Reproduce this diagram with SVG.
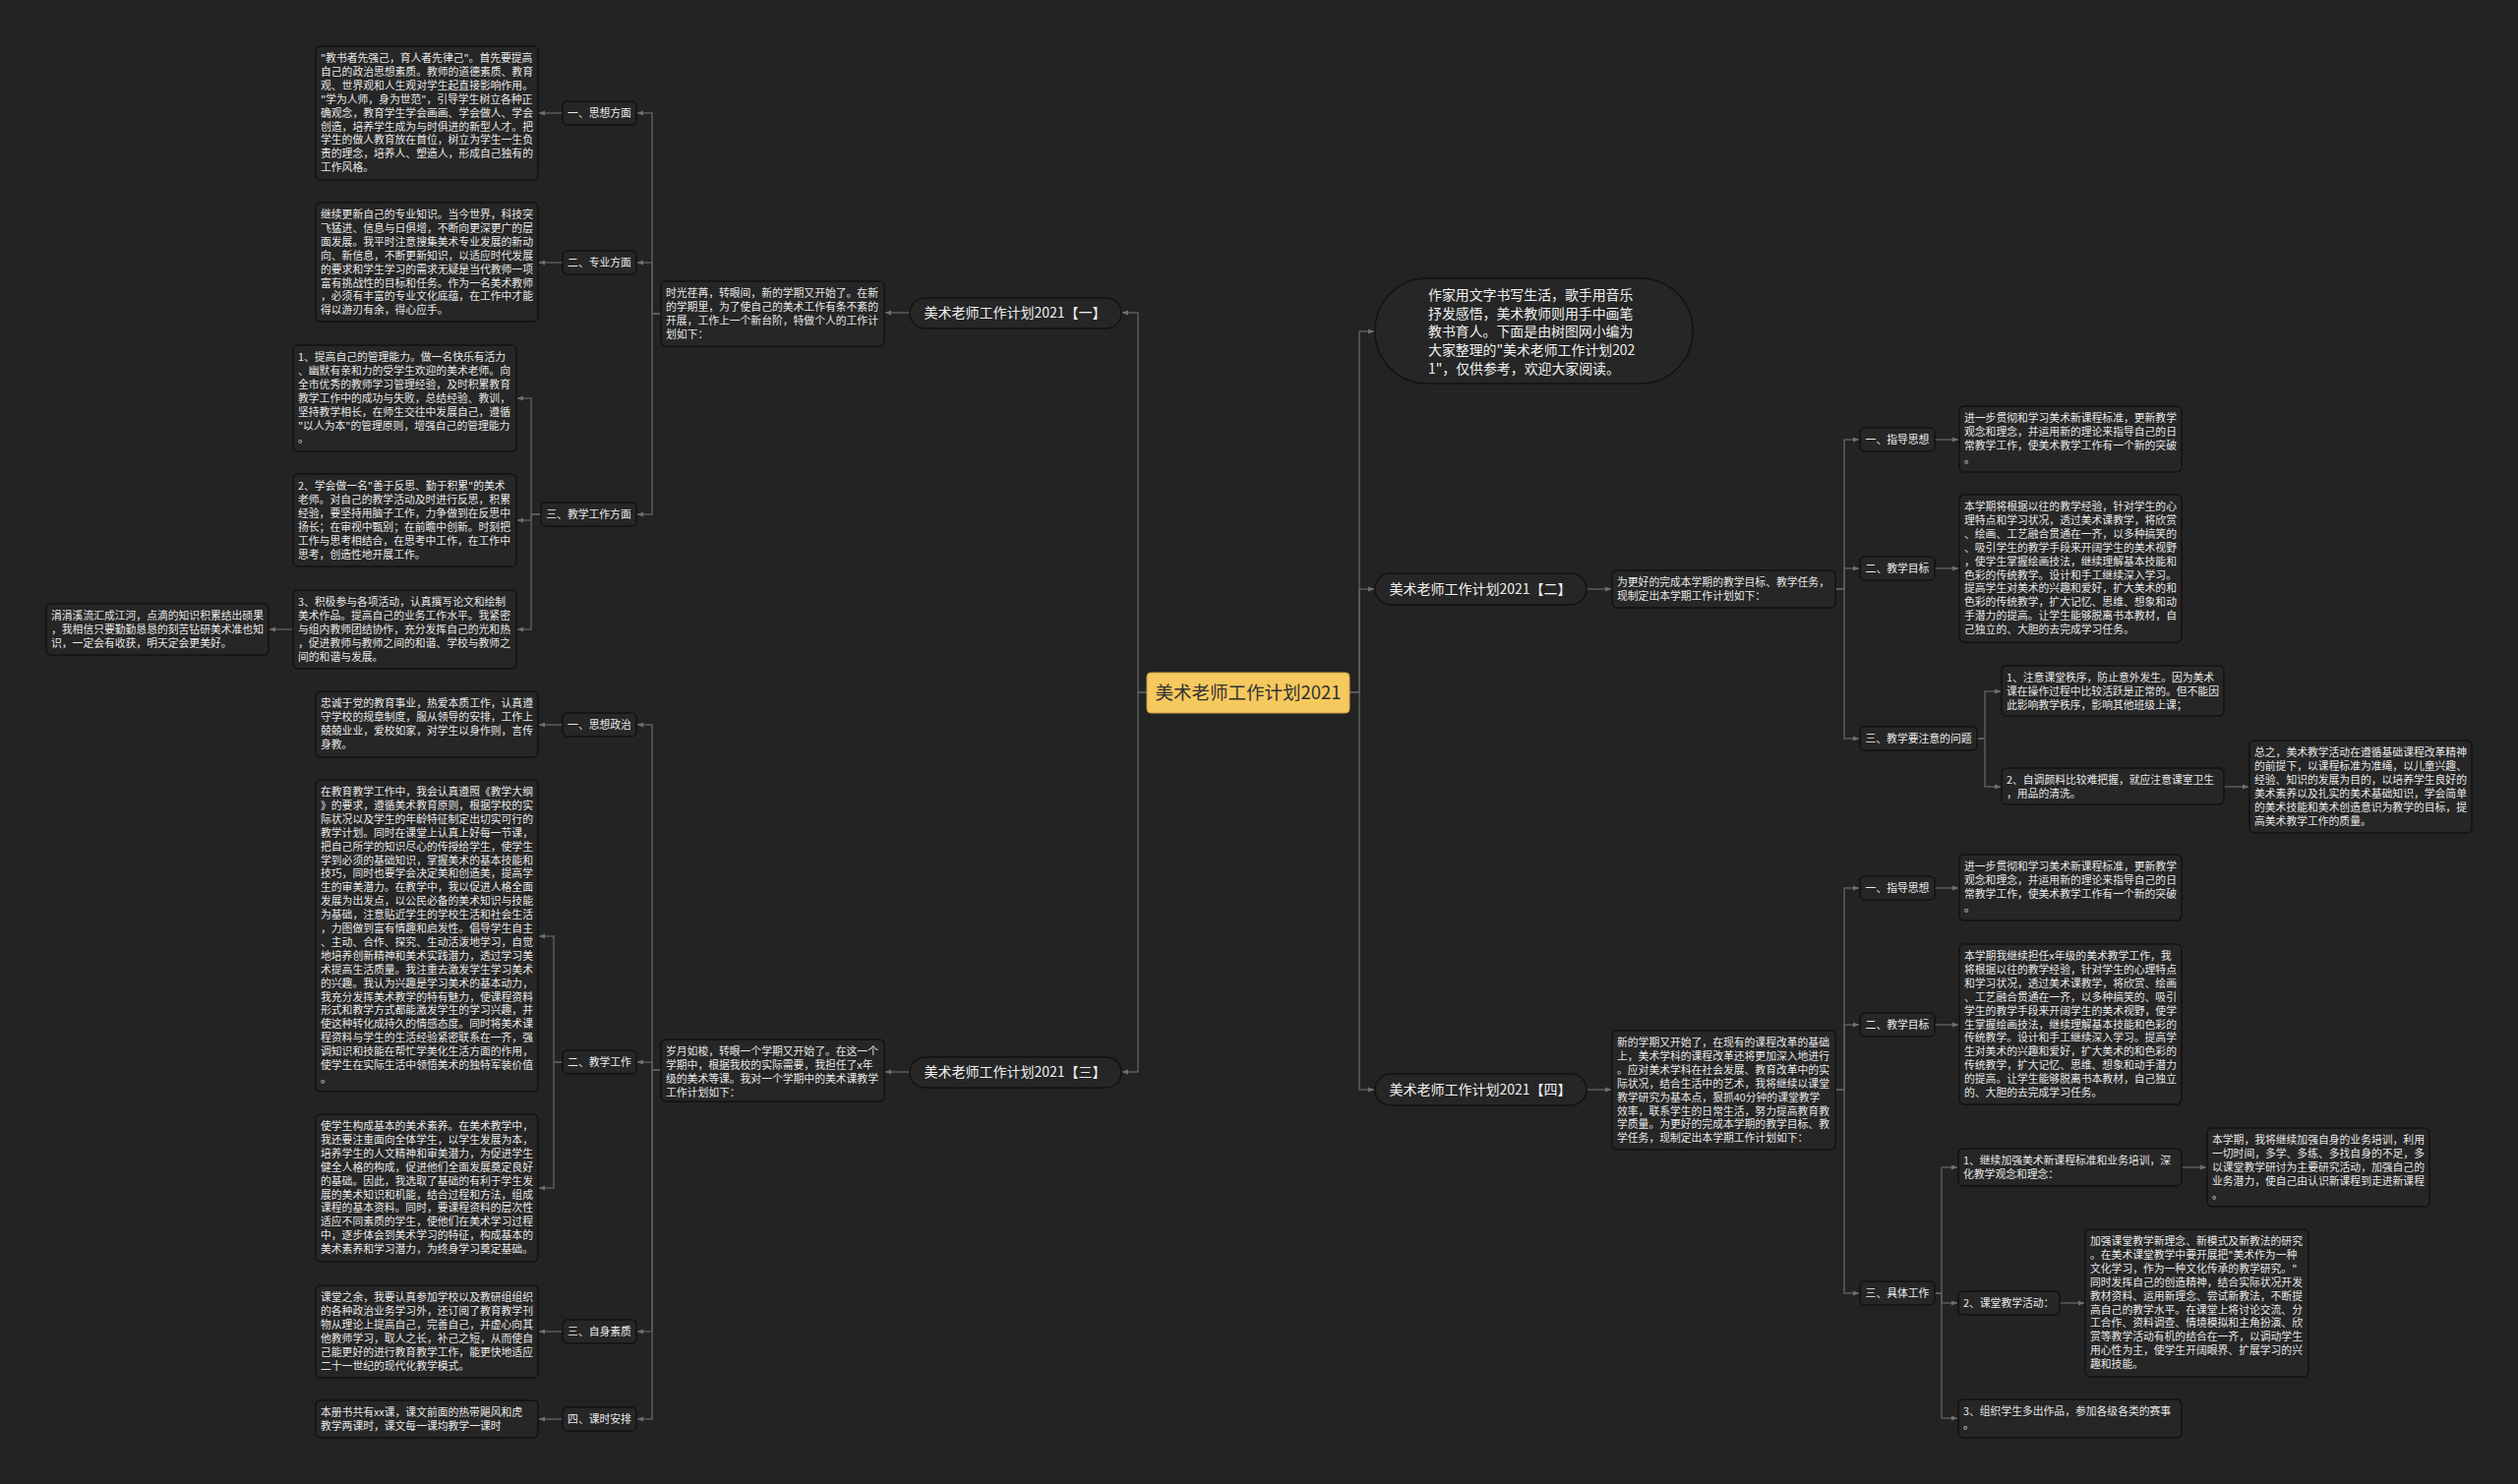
<svg xmlns="http://www.w3.org/2000/svg" width="2560" height="1509" viewBox="0 0 2560 1509">
<style>
.box{fill:#262626;stroke:#121212;stroke-width:1.5}
.t{font-family:"Noto Sans CJK SC","Noto Sans",sans-serif;font-size:10.8px;fill:#e8e8e8}
.lt{font-family:"Noto Sans CJK SC","Noto Sans",sans-serif;font-size:10.8px;fill:#ececec;text-anchor:middle}
.pt{font-family:"Noto Sans CJK SC","Noto Sans",sans-serif;font-size:14px;fill:#f0f0f0;text-anchor:middle}
.it{font-family:"Noto Sans CJK SC","Noto Sans",sans-serif;font-size:13.9px;fill:#f0f0f0}
.c{fill:none;stroke:#5c5c5c;stroke-width:1.5}
</style>
<defs>
<marker id="a" viewBox="0 0 6 6" refX="6" refY="3" markerWidth="6" markerHeight="6" orient="auto" markerUnits="userSpaceOnUse"><path d="M0,0.5 L6,3 L0,5.5 z" fill="#707070"/></marker>
</defs>
<rect width="2560" height="1509" fill="#232323"/>

<g id="connectors">
<path class="c" marker-end="url(#a)" d="M1166,704 H1157 V318 H1141"/>
<path class="c" marker-end="url(#a)" d="M1166,704 H1157 V1090 H1141"/>
<path class="c" marker-end="url(#a)" d="M925,318 H900"/>
<path class="c" marker-end="url(#a)" d="M672,319 H663 V115 H648"/>
<path class="c" marker-end="url(#a)" d="M672,319 H663 V267 H648"/>
<path class="c" marker-end="url(#a)" d="M672,319 H663 V523 H648"/>
<path class="c" marker-end="url(#a)" d="M572,115 H548"/>
<path class="c" marker-end="url(#a)" d="M572,267 H548"/>
<path class="c" marker-end="url(#a)" d="M550,523 H540 V405 H526"/>
<path class="c" marker-end="url(#a)" d="M550,523 H540 V529 H526"/>
<path class="c" marker-end="url(#a)" d="M550,523 H540 V640 H526"/>
<path class="c" marker-end="url(#a)" d="M298,640 H274"/>
<path class="c" marker-end="url(#a)" d="M925,1090 H900"/>
<path class="c" marker-end="url(#a)" d="M672,1088 H663 V737 H648"/>
<path class="c" marker-end="url(#a)" d="M672,1088 H663 V1080 H648"/>
<path class="c" marker-end="url(#a)" d="M672,1088 H663 V1354 H648"/>
<path class="c" marker-end="url(#a)" d="M672,1088 H663 V1443 H648"/>
<path class="c" marker-end="url(#a)" d="M572,737 H548"/>
<path class="c" marker-end="url(#a)" d="M572,1080 H563 V952 H548"/>
<path class="c" marker-end="url(#a)" d="M572,1080 H563 V1208 H548"/>
<path class="c" marker-end="url(#a)" d="M572,1354 H548"/>
<path class="c" marker-end="url(#a)" d="M572,1443 H548"/>
<path class="c" marker-end="url(#a)" d="M1372,704 H1382 V337 H1397"/>
<path class="c" marker-end="url(#a)" d="M1372,704 H1382 V599 H1397"/>
<path class="c" marker-end="url(#a)" d="M1372,704 H1382 V1108 H1397"/>
<path class="c" marker-end="url(#a)" d="M1613,599 H1638"/>
<path class="c" marker-end="url(#a)" d="M1866,599 H1875 V447 H1890"/>
<path class="c" marker-end="url(#a)" d="M1866,599 H1875 V578 H1890"/>
<path class="c" marker-end="url(#a)" d="M1866,599 H1875 V751 H1890"/>
<path class="c" marker-end="url(#a)" d="M1967,447 H1991"/>
<path class="c" marker-end="url(#a)" d="M1967,578 H1991"/>
<path class="c" marker-end="url(#a)" d="M2010,751 H2018 V703 H2034"/>
<path class="c" marker-end="url(#a)" d="M2010,751 H2018 V800 H2034"/>
<path class="c" marker-end="url(#a)" d="M2261,800 H2286"/>
<path class="c" marker-end="url(#a)" d="M1613,1108 H1638"/>
<path class="c" marker-end="url(#a)" d="M1866,1108 H1875 V903 H1890"/>
<path class="c" marker-end="url(#a)" d="M1866,1108 H1875 V1042 H1890"/>
<path class="c" marker-end="url(#a)" d="M1866,1108 H1875 V1315 H1890"/>
<path class="c" marker-end="url(#a)" d="M1967,903 H1991"/>
<path class="c" marker-end="url(#a)" d="M1967,1042 H1991"/>
<path class="c" marker-end="url(#a)" d="M1967,1315 H1974 V1187 H1990"/>
<path class="c" marker-end="url(#a)" d="M1967,1315 H1974 V1325 H1990"/>
<path class="c" marker-end="url(#a)" d="M1967,1315 H1974 V1442 H1990"/>
<path class="c" marker-end="url(#a)" d="M2218,1187 H2243"/>
<path class="c" marker-end="url(#a)" d="M2094,1325 H2119"/>
</g>

<g id="root">
<rect x="1166" y="684" width="206" height="41" rx="4" fill="#f6c95e" stroke="#c9a040" stroke-width="1"/>
<text x="1269" y="711" font-family="Noto Sans CJK SC,Noto Sans,sans-serif" font-size="18.5" fill="#333" text-anchor="middle">美术老师工作计划2021</text>
</g>

<g id="plan1">
<rect class="box" x="925" y="303" width="215" height="31" rx="15.5"/>
<text class="pt" x="1032" y="323">美术老师工作计划2021【一】</text>
</g>
<g id="plan1-intro">
<rect class="box" x="672" y="286" width="227" height="66" rx="5"/>
<text class="t" x="677" y="302"><tspan x="677">时光荏苒，转眼间，新的学期又开始了。在新</tspan><tspan x="677" dy="13.9">的学期里，为了使自己的美术工作有条不紊的</tspan><tspan x="677" dy="13.9">开展，工作上一个新台阶，特做个人的工作计</tspan><tspan x="677" dy="13.9">划如下：</tspan></text>
</g>
<g id="p1-l1">
<rect class="box" x="572" y="103" width="75" height="24" rx="5"/>
<text class="lt" x="609.5" y="119">一、思想方面</text>
</g>
<g id="p1-b1">
<rect class="box" x="321" y="47" width="226" height="136" rx="5"/>
<text class="t" x="326" y="63"><tspan x="326">"教书者先强己，育人者先律己"。首先要提高</tspan><tspan x="326" dy="13.9">自己的政治思想素质。教师的道德素质、教育</tspan><tspan x="326" dy="13.9">观、世界观和人生观对学生起直接影响作用。</tspan><tspan x="326" dy="13.9">"学为人师，身为世范"，引导学生树立各种正</tspan><tspan x="326" dy="13.9">确观念，教育学生学会画画、学会做人、学会</tspan><tspan x="326" dy="13.9">创造，培养学生成为与时俱进的新型人才。把</tspan><tspan x="326" dy="13.9">学生的做人教育放在首位，树立为学生一生负</tspan><tspan x="326" dy="13.9">责的理念，培养人、塑造人，形成自己独有的</tspan><tspan x="326" dy="13.9">工作风格。</tspan></text>
</g>
<g id="p1-l2">
<rect class="box" x="572" y="255" width="75" height="24" rx="5"/>
<text class="lt" x="609.5" y="271">二、专业方面</text>
</g>
<g id="p1-b2">
<rect class="box" x="321" y="206" width="226" height="121" rx="5"/>
<text class="t" x="326" y="222"><tspan x="326">继续更新自己的专业知识。当今世界，科技突</tspan><tspan x="326" dy="13.9">飞猛进、信息与日俱增，不断向更深更广的层</tspan><tspan x="326" dy="13.9">面发展。我平时注意搜集美术专业发展的新动</tspan><tspan x="326" dy="13.9">向、新信息，不断更新知识，以适应时代发展</tspan><tspan x="326" dy="13.9">的要求和学生学习的需求无疑是当代教师一项</tspan><tspan x="326" dy="13.9">富有挑战性的目标和任务。作为一名美术教师</tspan><tspan x="326" dy="13.9">，必须有丰富的专业文化底蕴，在工作中才能</tspan><tspan x="326" dy="13.9">得以游刃有余，得心应手。</tspan></text>
</g>
<g id="p1-l3">
<rect class="box" x="550" y="511" width="97" height="24" rx="5"/>
<text class="lt" x="598.5" y="527">三、教学工作方面</text>
</g>
<g id="p1-b3a">
<rect class="box" x="298" y="351" width="227" height="108" rx="5"/>
<text class="t" x="303" y="367"><tspan x="303">1、提高自己的管理能力。做一名快乐有活力</tspan><tspan x="303" dy="13.9">、幽默有亲和力的受学生欢迎的美术老师。向</tspan><tspan x="303" dy="13.9">全市优秀的教师学习管理经验，及时积累教育</tspan><tspan x="303" dy="13.9">教学工作中的成功与失败，总结经验、教训，</tspan><tspan x="303" dy="13.9">坚持教学相长，在师生交往中发展自己，遵循</tspan><tspan x="303" dy="13.9">"以人为本"的管理原则，增强自己的管理能力</tspan><tspan x="303" dy="13.9">。</tspan></text>
</g>
<g id="p1-b3b">
<rect class="box" x="298" y="482" width="227" height="94" rx="5"/>
<text class="t" x="303" y="498"><tspan x="303">2、学会做一名"善于反思、勤于积累"的美术</tspan><tspan x="303" dy="13.9">老师。对自己的教学活动及时进行反思，积累</tspan><tspan x="303" dy="13.9">经验，要坚持用脑子工作，力争做到在反思中</tspan><tspan x="303" dy="13.9">扬长；在审视中甄别；在前瞻中创新。时刻把</tspan><tspan x="303" dy="13.9">工作与思考相结合，在思考中工作，在工作中</tspan><tspan x="303" dy="13.9">思考，创造性地开展工作。</tspan></text>
</g>
<g id="p1-b3c">
<rect class="box" x="298" y="600" width="227" height="80" rx="5"/>
<text class="t" x="303" y="616"><tspan x="303">3、积极参与各项活动，认真撰写论文和绘制</tspan><tspan x="303" dy="13.9">美术作品。提高自己的业务工作水平。我紧密</tspan><tspan x="303" dy="13.9">与组内教师团结协作，充分发挥自己的光和热</tspan><tspan x="303" dy="13.9">，促进教师与教师之间的和谐、学校与教师之</tspan><tspan x="303" dy="13.9">间的和谐与发展。</tspan></text>
</g>
<g id="p1-b3c-1">
<rect class="box" x="47" y="614" width="226" height="52" rx="5"/>
<text class="t" x="52" y="630"><tspan x="52">涓涓溪流汇成江河，点滴的知识积累结出硕果</tspan><tspan x="52" dy="13.9">，我相信只要勤勤恳恳的刻苦钻研美术准也知</tspan><tspan x="52" dy="13.9">识，一定会有收获，明天定会更美好。</tspan></text>
</g>

<g id="plan3">
<rect class="box" x="925" y="1075" width="215" height="31" rx="15.5"/>
<text class="pt" x="1032" y="1095">美术老师工作计划2021【三】</text>
</g>
<g id="plan3-intro">
<rect class="box" x="672" y="1057" width="227" height="63" rx="5"/>
<text class="t" x="677" y="1073"><tspan x="677">岁月如梭，转眼一个学期又开始了。在这一个</tspan><tspan x="677" dy="13.9">学期中，根据我校的实际需要，我担任了x年</tspan><tspan x="677" dy="13.9">级的美术等课。我对一个学期中的美术课教学</tspan><tspan x="677" dy="13.9">工作计划如下：</tspan></text>
</g>
<g id="p3-l1">
<rect class="box" x="572" y="725" width="75" height="24" rx="5"/>
<text class="lt" x="609.5" y="741">一、思想政治</text>
</g>
<g id="p3-b1">
<rect class="box" x="321" y="703" width="226" height="67" rx="5"/>
<text class="t" x="326" y="719"><tspan x="326">忠诚于党的教育事业，热爱本质工作，认真遵</tspan><tspan x="326" dy="13.9">守学校的规章制度，服从领导的安排，工作上</tspan><tspan x="326" dy="13.9">兢兢业业，爱校如家，对学生以身作则，言传</tspan><tspan x="326" dy="13.9">身教。</tspan></text>
</g>
<g id="p3-l2">
<rect class="box" x="572" y="1068" width="75" height="24" rx="5"/>
<text class="lt" x="609.5" y="1084">二、教学工作</text>
</g>
<g id="p3-b2a">
<rect class="box" x="321" y="793" width="226" height="317" rx="5"/>
<text class="t" x="326" y="809"><tspan x="326">在教育教学工作中，我会认真遵照《教学大纲</tspan><tspan x="326" dy="13.9">》的要求，遵循美术教育原则，根据学校的实</tspan><tspan x="326" dy="13.9">际状况以及学生的年龄特征制定出切实可行的</tspan><tspan x="326" dy="13.9">教学计划。同时在课堂上认真上好每一节课，</tspan><tspan x="326" dy="13.9">把自己所学的知识尽心的传授给学生，使学生</tspan><tspan x="326" dy="13.9">学到必须的基础知识，掌握美术的基本技能和</tspan><tspan x="326" dy="13.9">技巧，同时也要学会决定美和创造美，提高学</tspan><tspan x="326" dy="13.9">生的审美潜力。在教学中，我以促进人格全面</tspan><tspan x="326" dy="13.9">发展为出发点，以公民必备的美术知识与技能</tspan><tspan x="326" dy="13.9">为基础，注意贴近学生的学校生活和社会生活</tspan><tspan x="326" dy="13.9">，力图做到富有情趣和启发性。倡导学生自主</tspan><tspan x="326" dy="13.9">、主动、合作、探究、生动活泼地学习，自觉</tspan><tspan x="326" dy="13.9">地培养创新精神和美术实践潜力，透过学习美</tspan><tspan x="326" dy="13.9">术提高生活质量。我注重去激发学生学习美术</tspan><tspan x="326" dy="13.9">的兴趣。我认为兴趣是学习美术的基本动力，</tspan><tspan x="326" dy="13.9">我充分发挥美术教学的特有魅力，使课程资料</tspan><tspan x="326" dy="13.9">形式和教学方式都能激发学生的学习兴趣，并</tspan><tspan x="326" dy="13.9">使这种转化成持久的情感态度。同时将美术课</tspan><tspan x="326" dy="13.9">程资料与学生的生活经验紧密联系在一齐，强</tspan><tspan x="326" dy="13.9">调知识和技能在帮忙学美化生活方面的作用，</tspan><tspan x="326" dy="13.9">使学生在实际生活中领悟美术的独特军装价值</tspan><tspan x="326" dy="13.9">。</tspan></text>
</g>
<g id="p3-b2b">
<rect class="box" x="321" y="1133" width="226" height="150" rx="5"/>
<text class="t" x="326" y="1149"><tspan x="326">使学生构成基本的美术素养。在美术教学中，</tspan><tspan x="326" dy="13.9">我还要注重面向全体学生，以学生发展为本，</tspan><tspan x="326" dy="13.9">培养学生的人文精神和审美潜力，为促进学生</tspan><tspan x="326" dy="13.9">健全人格的构成，促进他们全面发展奠定良好</tspan><tspan x="326" dy="13.9">的基础。因此，我选取了基础的有利于学生发</tspan><tspan x="326" dy="13.9">展的美术知识和机能，结合过程和方法，组成</tspan><tspan x="326" dy="13.9">课程的基本资料。同时，要课程资料的层次性</tspan><tspan x="326" dy="13.9">适应不同素质的学生，使他们在美术学习过程</tspan><tspan x="326" dy="13.9">中，逐步体会到美术学习的特征，构成基本的</tspan><tspan x="326" dy="13.9">美术素养和学习潜力，为终身学习奠定基础。</tspan></text>
</g>
<g id="p3-l3">
<rect class="box" x="572" y="1342" width="75" height="24" rx="5"/>
<text class="lt" x="609.5" y="1358">三、自身素质</text>
</g>
<g id="p3-b3">
<rect class="box" x="321" y="1307" width="226" height="94" rx="5"/>
<text class="t" x="326" y="1323"><tspan x="326">课堂之余，我要认真参加学校以及教研组组织</tspan><tspan x="326" dy="13.9">的各种政治业务学习外，还订阅了教育教学刊</tspan><tspan x="326" dy="13.9">物从理论上提高自己，完善自己，并虚心向其</tspan><tspan x="326" dy="13.9">他教师学习，取人之长，补己之短，从而使自</tspan><tspan x="326" dy="13.9">己能更好的进行教育教学工作，能更快地适应</tspan><tspan x="326" dy="13.9">二十一世纪的现代化教学模式。</tspan></text>
</g>
<g id="p3-l4">
<rect class="box" x="572" y="1431" width="75" height="24" rx="5"/>
<text class="lt" x="609.5" y="1447">四、课时安排</text>
</g>
<g id="p3-b4">
<rect class="box" x="321" y="1424" width="226" height="38" rx="5"/>
<text class="t" x="326" y="1440"><tspan x="326">本册书共有xx课，课文前面的热带飓风和虎</tspan><tspan x="326" dy="13.9">教学两课时，课文每一课均教学一课时</tspan></text>
</g>

<g id="intro">
<rect class="box" x="1398" y="283" width="323" height="107" rx="53"/>
<text class="it" x="1452" y="305"><tspan x="1452">作家用文字书写生活，歌手用音乐</tspan><tspan x="1452" dy="18.7">抒发感悟，美术教师则用手中画笔</tspan><tspan x="1452" dy="18.7">教书育人。下面是由树图网小编为</tspan><tspan x="1452" dy="18.7">大家整理的"美术老师工作计划202</tspan><tspan x="1452" dy="18.7">1"，仅供参考，欢迎大家阅读。</tspan></text>
</g>

<g id="plan2">
<rect class="box" x="1398" y="583" width="215" height="32" rx="16"/>
<text class="pt" x="1505" y="604">美术老师工作计划2021【二】</text>
</g>
<g id="plan2-intro">
<rect class="box" x="1639" y="580" width="227" height="38" rx="5"/>
<text class="t" x="1644" y="596"><tspan x="1644">为更好的完成本学期的教学目标、教学任务，</tspan><tspan x="1644" dy="13.9">现制定出本学期工作计划如下：</tspan></text>
</g>
<g id="p2-l1">
<rect class="box" x="1891" y="435" width="76" height="24" rx="5"/>
<text class="lt" x="1929" y="451">一、指导思想</text>
</g>
<g id="p2-b1">
<rect class="box" x="1992" y="413" width="226" height="67" rx="5"/>
<text class="t" x="1997" y="429"><tspan x="1997">进一步贯彻和学习美术新课程标准，更新教学</tspan><tspan x="1997" dy="13.9">观念和理念，并运用新的理论来指导自己的日</tspan><tspan x="1997" dy="13.9">常教学工作，使美术教学工作有一个新的突破</tspan><tspan x="1997" dy="13.9">。</tspan></text>
</g>
<g id="p2-l2">
<rect class="box" x="1891" y="566" width="76" height="24" rx="5"/>
<text class="lt" x="1929" y="582">二、教学目标</text>
</g>
<g id="p2-b2">
<rect class="box" x="1992" y="503" width="226" height="150" rx="5"/>
<text class="t" x="1997" y="519"><tspan x="1997">本学期将根据以往的教学经验，针对学生的心</tspan><tspan x="1997" dy="13.9">理特点和学习状况，透过美术课教学，将欣赏</tspan><tspan x="1997" dy="13.9">、绘画、工艺融合贯通在一齐，以多种搞笑的</tspan><tspan x="1997" dy="13.9">、吸引学生的教学手段来开阔学生的美术视野</tspan><tspan x="1997" dy="13.9">，使学生掌握绘画技法，继续理解基本技能和</tspan><tspan x="1997" dy="13.9">色彩的传统教学。设计和手工继续深入学习。</tspan><tspan x="1997" dy="13.9">提高学生对美术的兴趣和爱好，扩大美术的和</tspan><tspan x="1997" dy="13.9">色彩的传统教学，扩大记忆、思维、想象和动</tspan><tspan x="1997" dy="13.9">手潜力的提高。让学生能够脱离书本教材，自</tspan><tspan x="1997" dy="13.9">己独立的、大胆的去完成学习任务。</tspan></text>
</g>
<g id="p2-l3">
<rect class="box" x="1891" y="739" width="119" height="24" rx="5"/>
<text class="lt" x="1950.5" y="755">三、教学要注意的问题</text>
</g>
<g id="p2-b3a">
<rect class="box" x="2035" y="677" width="226" height="51" rx="5"/>
<text class="t" x="2040" y="693"><tspan x="2040">1、注意课堂秩序，防止意外发生。因为美术</tspan><tspan x="2040" dy="13.9">课在操作过程中比较活跃是正常的。但不能因</tspan><tspan x="2040" dy="13.9">此影响教学秩序，影响其他班级上课；</tspan></text>
</g>
<g id="p2-b3b">
<rect class="box" x="2035" y="781" width="226" height="37" rx="5"/>
<text class="t" x="2040" y="797"><tspan x="2040">2、自调颜料比较难把握，就应注意课室卫生</tspan><tspan x="2040" dy="13.9">，用品的清洗。</tspan></text>
</g>
<g id="p2-b3b-1">
<rect class="box" x="2287" y="753" width="226" height="94" rx="5"/>
<text class="t" x="2292" y="769"><tspan x="2292">总之，美术教学活动在遵循基础课程改革精神</tspan><tspan x="2292" dy="13.9">的前提下，以课程标准为准绳，以儿童兴趣、</tspan><tspan x="2292" dy="13.9">经验、知识的发展为目的，以培养学生良好的</tspan><tspan x="2292" dy="13.9">美术素养以及扎实的美术基础知识，学会简单</tspan><tspan x="2292" dy="13.9">的美术技能和美术创造意识为教学的目标，提</tspan><tspan x="2292" dy="13.9">高美术教学工作的质量。</tspan></text>
</g>

<g id="plan4">
<rect class="box" x="1398" y="1092" width="215" height="32" rx="16"/>
<text class="pt" x="1505" y="1113">美术老师工作计划2021【四】</text>
</g>
<g id="plan4-intro">
<rect class="box" x="1639" y="1048" width="227" height="121" rx="5"/>
<text class="t" x="1644" y="1064"><tspan x="1644">新的学期又开始了，在现有的课程改革的基础</tspan><tspan x="1644" dy="13.9">上，美术学科的课程改革还将更加深入地进行</tspan><tspan x="1644" dy="13.9">。应对美术学科在社会发展、教育改革中的实</tspan><tspan x="1644" dy="13.9">际状况，结合生活中的艺术，我将继续以课堂</tspan><tspan x="1644" dy="13.9">教学研究为基本点，狠抓40分钟的课堂教学</tspan><tspan x="1644" dy="13.9">效率，联系学生的日常生活，努力提高教育教</tspan><tspan x="1644" dy="13.9">学质量。为更好的完成本学期的教学目标、教</tspan><tspan x="1644" dy="13.9">学任务，现制定出本学期工作计划如下：</tspan></text>
</g>
<g id="p4-l1">
<rect class="box" x="1891" y="891" width="76" height="24" rx="5"/>
<text class="lt" x="1929" y="907">一、指导思想</text>
</g>
<g id="p4-b1">
<rect class="box" x="1992" y="869" width="226" height="67" rx="5"/>
<text class="t" x="1997" y="885"><tspan x="1997">进一步贯彻和学习美术新课程标准，更新教学</tspan><tspan x="1997" dy="13.9">观念和理念，并运用新的理论来指导自己的日</tspan><tspan x="1997" dy="13.9">常教学工作，使美术教学工作有一个新的突破</tspan><tspan x="1997" dy="13.9">。</tspan></text>
</g>
<g id="p4-l2">
<rect class="box" x="1891" y="1030" width="76" height="24" rx="5"/>
<text class="lt" x="1929" y="1046">二、教学目标</text>
</g>
<g id="p4-b2">
<rect class="box" x="1992" y="960" width="226" height="163" rx="5"/>
<text class="t" x="1997" y="976"><tspan x="1997">本学期我继续担任x年级的美术教学工作，我</tspan><tspan x="1997" dy="13.9">将根据以往的教学经验，针对学生的心理特点</tspan><tspan x="1997" dy="13.9">和学习状况，透过美术课教学，将欣赏、绘画</tspan><tspan x="1997" dy="13.9">、工艺融合贯通在一齐，以多种搞笑的、吸引</tspan><tspan x="1997" dy="13.9">学生的教学手段来开阔学生的美术视野，使学</tspan><tspan x="1997" dy="13.9">生掌握绘画技法，继续理解基本技能和色彩的</tspan><tspan x="1997" dy="13.9">传统教学。设计和手工继续深入学习。提高学</tspan><tspan x="1997" dy="13.9">生对美术的兴趣和爱好，扩大美术的和色彩的</tspan><tspan x="1997" dy="13.9">传统教学，扩大记忆、思维、想象和动手潜力</tspan><tspan x="1997" dy="13.9">的提高。让学生能够脱离书本教材，自己独立</tspan><tspan x="1997" dy="13.9">的、大胆的去完成学习任务。</tspan></text>
</g>
<g id="p4-l3">
<rect class="box" x="1891" y="1303" width="76" height="24" rx="5"/>
<text class="lt" x="1929" y="1319">三、具体工作</text>
</g>
<g id="p4-l3a">
<rect class="box" x="1991" y="1168" width="227" height="38" rx="5"/>
<text class="t" x="1996" y="1184"><tspan x="1996">1、继续加强美术新课程标准和业务培训，深</tspan><tspan x="1996" dy="13.9">化教学观念和理念：</tspan></text>
</g>
<g id="p4-b3a">
<rect class="box" x="2244" y="1147" width="226" height="80" rx="5"/>
<text class="t" x="2249" y="1163"><tspan x="2249">本学期，我将继续加强自身的业务培训，利用</tspan><tspan x="2249" dy="13.9">一切时间，多学、多练、多找自身的不足，多</tspan><tspan x="2249" dy="13.9">以课堂教学研讨为主要研究活动，加强自己的</tspan><tspan x="2249" dy="13.9">业务潜力，使自己由认识新课程到走进新课程</tspan><tspan x="2249" dy="13.9">。</tspan></text>
</g>
<g id="p4-l3b">
<rect class="box" x="1991" y="1313" width="103" height="24" rx="5"/>
<text class="t" x="1996" y="1329">2、课堂教学活动：</text>
</g>
<g id="p4-b3b">
<rect class="box" x="2120" y="1250" width="227" height="150" rx="5"/>
<text class="t" x="2125" y="1266"><tspan x="2125">加强课堂教学新理念、新模式及新教法的研究</tspan><tspan x="2125" dy="13.9">。在美术课堂教学中要开展把"美术作为一种</tspan><tspan x="2125" dy="13.9">文化学习，作为一种文化传承的教学研究。"</tspan><tspan x="2125" dy="13.9">同时发挥自己的创造精神，结合实际状况开发</tspan><tspan x="2125" dy="13.9">教材资料、运用新理念、尝试新教法，不断提</tspan><tspan x="2125" dy="13.9">高自己的教学水平。在课堂上将讨论交流、分</tspan><tspan x="2125" dy="13.9">工合作、资料调查、情境模拟和主角扮演、欣</tspan><tspan x="2125" dy="13.9">赏等教学活动有机的结合在一齐，以调动学生</tspan><tspan x="2125" dy="13.9">用心性为主，使学生开阔眼界、扩展学习的兴</tspan><tspan x="2125" dy="13.9">趣和技能。</tspan></text>
</g>
<g id="p4-l3c">
<rect class="box" x="1991" y="1423" width="227" height="39" rx="5"/>
<text class="t" x="1996" y="1439"><tspan x="1996">3、组织学生多出作品，参加各级各类的赛事</tspan><tspan x="1996" dy="13.9">。</tspan></text>
</g>
</svg>
